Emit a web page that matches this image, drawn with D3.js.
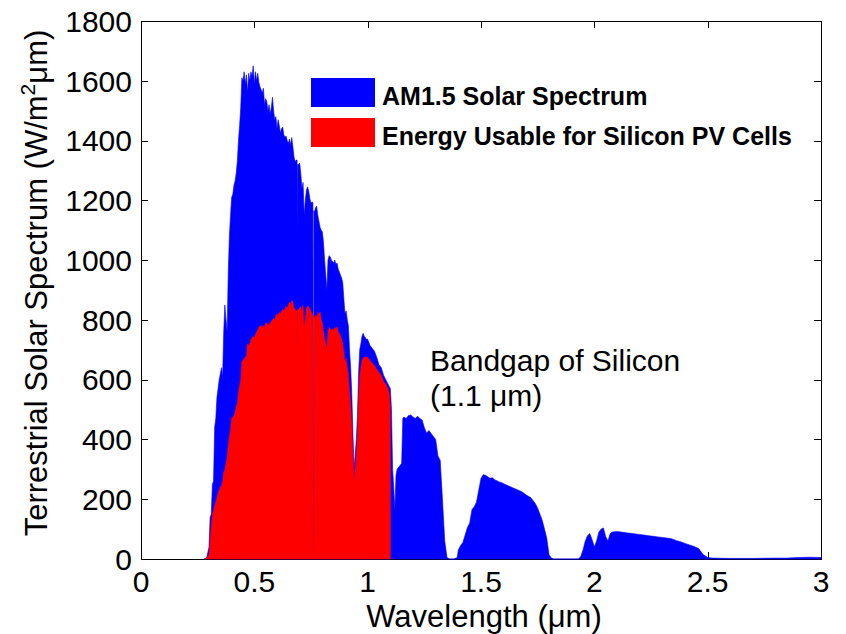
<!DOCTYPE html>
<html>
<head>
<meta charset="utf-8">
<script src="https://cdn.jsdelivr.net/npm/d3@7"></script>
<style>
  html, body { margin: 0; padding: 0; background: #fff; }
  svg { display: block; font-family: "Liberation Sans", Arial, Helvetica, sans-serif; }
</style>
</head>
<body>
<svg id="chart" width="846" height="634"></svg>
<script>
// ---------------- DATA ----------------
const xTicks = [0, 0.5, 1, 1.5, 2, 2.5, 3];
const xTickLabels = ["0", "0.5", "1", "1.5", "2", "2.5", "3"];
const yTicks = [0, 200, 400, 600, 800, 1000, 1200, 1400, 1600, 1800];
const yTickLabels = ["0", "200", "400", "600", "800", "1000", "1200", "1400", "1600", "1800"];
const seriesNames = ["AM1.5 Solar Spectrum", "Energy Usable for Silicon PV Cells"];

// AM1.5 spectrum: wavelength (µm) and irradiance (W/m²µm)
const am15Wavelength = [
  0.28, 0.29, 0.30, 0.305, 0.31, 0.315, 0.32, 0.325, 0.33, 0.335, 0.34, 0.345, 0.35, 0.355, 0.36, 0.365, 0.37, 0.375, 0.38, 0.385,
  0.39, 0.395, 0.40, 0.405, 0.41, 0.415, 0.42, 0.425, 0.43, 0.435, 0.44, 0.445, 0.45, 0.455, 0.46, 0.465, 0.47, 0.475, 0.48, 0.485,
  0.49, 0.495, 0.50, 0.505, 0.51, 0.515, 0.52, 0.525, 0.53, 0.535, 0.54, 0.545, 0.55, 0.555, 0.56, 0.565, 0.57, 0.575, 0.58, 0.585,
  0.59, 0.595, 0.60, 0.605, 0.61, 0.615, 0.62, 0.625, 0.63, 0.635, 0.64, 0.645, 0.65, 0.655, 0.66, 0.665, 0.67, 0.675, 0.68, 0.685,
  0.6885, 0.6895, 0.691, 0.695, 0.70, 0.705, 0.71, 0.715, 0.72, 0.725, 0.73, 0.735, 0.74, 0.745, 0.75, 0.755, 0.7585, 0.7598, 0.7612, 0.7625,
  0.765, 0.77, 0.775, 0.78, 0.785, 0.79, 0.795, 0.80, 0.805, 0.81, 0.815, 0.82, 0.825, 0.83, 0.835, 0.84, 0.845, 0.85, 0.855, 0.86, 0.865,
  0.87, 0.875, 0.88, 0.885, 0.89, 0.895, 0.90, 0.905, 0.91, 0.915, 0.92, 0.925, 0.93, 0.935, 0.94, 0.945, 0.95, 0.955, 0.96, 0.965,
  0.97, 0.975, 0.98, 0.985, 0.99, 0.995, 1.00, 1.01, 1.02, 1.03, 1.04, 1.05, 1.06, 1.07, 1.08, 1.09, 1.10, 1.105, 1.11, 1.115,
  1.12, 1.125, 1.13, 1.14, 1.15, 1.155, 1.16, 1.17, 1.18, 1.19, 1.20, 1.21, 1.22, 1.23, 1.24, 1.25, 1.26, 1.27, 1.28, 1.29,
  1.30, 1.31, 1.32, 1.33, 1.34, 1.35, 1.36, 1.38, 1.395, 1.40, 1.41, 1.42, 1.43, 1.44, 1.45, 1.46, 1.47, 1.48, 1.49, 1.50,
  1.51, 1.52, 1.53, 1.54, 1.55, 1.56, 1.57, 1.58, 1.59, 1.60, 1.62, 1.64, 1.66, 1.68, 1.70, 1.72, 1.74, 1.75, 1.76, 1.77,
  1.78, 1.79, 1.80, 1.81, 1.82, 1.93, 1.94, 1.95, 1.96, 1.97, 1.98, 1.99, 2.00, 2.01, 2.02, 2.03, 2.04, 2.05, 2.06, 2.07,
  2.08, 2.10, 2.12, 2.14, 2.16, 2.18, 2.20, 2.22, 2.24, 2.26, 2.28, 2.30, 2.32, 2.34, 2.36, 2.38, 2.40, 2.42, 2.44, 2.46,
  2.47, 2.48, 2.49, 2.50, 2.52, 2.60, 2.70, 2.80, 2.85, 2.90, 2.95, 3.00
];
const am15Irradiance = [
  0, 5, 40, 140, 150, 250, 260, 440, 470, 540, 570, 600, 620, 640, 610, 760, 850, 800, 760, 960,
  1080, 1150, 1210, 1220, 1250, 1265, 1290, 1330, 1400, 1450, 1510, 1610, 1600, 1630, 1590, 1620, 1560, 1625, 1600, 1630,
  1615, 1650, 1590, 1630, 1600, 1625, 1595, 1580, 1570, 1560, 1575, 1520, 1540, 1530, 1500, 1520, 1490, 1510, 1545, 1500,
  1470, 1480, 1440, 1470, 1450, 1425, 1440, 1445, 1420, 1410, 1415, 1400, 1390, 1405, 1385, 1410, 1380, 1345, 1330, 1335,
  1335, 1100, 1320, 1320, 1325, 1290, 1240, 1260, 1150, 1200, 1235, 1245, 1230, 1205, 1190, 1195, 1190, 40, 40, 1165,
  1160, 1175, 1180, 1150, 1130, 1110, 1100, 1095, 1060, 1000, 950, 900, 1000, 1015, 1010, 1000, 995, 990, 1000, 985, 990,
  970, 960, 950, 940, 925, 870, 820, 830, 800, 780, 700, 640, 550, 420, 300, 350, 400, 480, 620, 700,
  720, 745, 755, 745, 740, 735, 735, 715, 705, 695, 675, 650, 640, 615, 600, 585, 570, 500, 300, 240,
  165, 280, 300, 310, 320, 470, 475, 470, 480, 482, 475, 470, 478, 470, 465, 440, 421, 430, 420, 410,
  400, 345, 330, 200, 60, 5, 0, 0, 5, 30, 45, 55, 80, 105, 120, 165, 175, 190, 230, 270,
  282, 280, 275, 270, 272, 265, 262, 258, 256, 252, 245, 238, 232, 225, 214, 205, 185, 170, 150, 130,
  100, 70, 15, 3, 0, 0, 8, 30, 60, 78, 85, 65, 40, 60, 90, 100, 104, 75, 60, 85,
  90, 92, 90, 88, 86, 84, 82, 80, 78, 76, 74, 72, 70, 68, 62, 58, 52, 47, 42, 35,
  25, 15, 10, 5, 3, 2, 2, 3, 3, 5, 6, 5
];

// Energy usable for silicon PV cells (below 1.1 µm bandgap)
const siWavelength = [
  0.28, 0.29, 0.30, 0.305, 0.31, 0.315, 0.32, 0.325, 0.33, 0.335, 0.34, 0.345, 0.35, 0.355, 0.36, 0.365, 0.37, 0.375, 0.38, 0.385,
  0.39, 0.395, 0.40, 0.405, 0.41, 0.415, 0.42, 0.425, 0.43, 0.435, 0.44, 0.445, 0.45, 0.455, 0.46, 0.465, 0.47, 0.475, 0.48, 0.485,
  0.49, 0.495, 0.50, 0.505, 0.51, 0.515, 0.52, 0.525, 0.53, 0.535, 0.54, 0.545, 0.55, 0.555, 0.56, 0.565, 0.57, 0.575, 0.58, 0.585,
  0.59, 0.595, 0.60, 0.605, 0.61, 0.615, 0.62, 0.625, 0.63, 0.635, 0.64, 0.645, 0.65, 0.655, 0.66, 0.665, 0.67, 0.675, 0.68, 0.685,
  0.6885, 0.6895, 0.691, 0.695, 0.70, 0.705, 0.71, 0.715, 0.72, 0.725, 0.73, 0.735, 0.74, 0.745, 0.75, 0.755, 0.7585, 0.7598, 0.7612, 0.7625,
  0.765, 0.77, 0.775, 0.78, 0.785, 0.79, 0.795, 0.80, 0.805, 0.81, 0.815, 0.82, 0.825, 0.83, 0.835, 0.84, 0.845, 0.85, 0.855, 0.86, 0.865,
  0.87, 0.875, 0.88, 0.885, 0.89, 0.895, 0.90, 0.905, 0.91, 0.915, 0.92, 0.925, 0.93, 0.935, 0.94, 0.945, 0.95, 0.955, 0.96, 0.965,
  0.97, 0.975, 0.98, 0.985, 0.99, 0.995, 1.00, 1.01, 1.02, 1.03, 1.04, 1.05, 1.06, 1.07, 1.08, 1.09, 1.095, 1.10, 1.1001
];
const siIrradiance = [
  0, 3, 15, 60, 110, 150, 160, 180, 190, 205, 220, 230, 240, 245, 260, 290, 300, 320, 340, 380,
  410, 430, 470, 475, 480, 490, 510, 520, 555, 580, 600, 660, 665, 670, 675, 680, 720, 715, 720, 735,
  740, 745, 740, 750, 760, 765, 775, 780, 780, 775, 780, 775, 790, 790, 780, 785, 790, 795, 800, 805,
  800, 815, 820, 815, 825, 820, 830, 835, 830, 838, 845, 840, 850, 858, 855, 865, 860, 840, 835, 830,
  830, 700, 835, 835, 840, 845, 830, 850, 770, 800, 840, 845, 845, 835, 830, 820, 815, 30, 30, 805,
  810, 815, 810, 825, 820, 826, 800, 790, 760, 735, 720, 700, 760, 775, 770, 765, 770, 765, 775, 770, 777,
  760, 755, 745, 735, 720, 690, 660, 670, 640, 620, 560, 520, 450, 360, 260, 300, 350, 420, 540, 615,
  640, 665, 672, 676, 676, 675, 675, 665, 655, 648, 635, 625, 615, 595, 585, 570, 555, 510, 0
];

// ---------------- CHART ----------------
const svg = d3.select("#chart");
const M = { left: 141, right: 821, top: 21, bottom: 559 };
const x = d3.scaleLinear().domain([0, 3]).range([M.left, M.right]);
const y = d3.scaleLinear().domain([0, 1800]).range([M.bottom, M.top]);
const tickLen = 7;

const axisG = svg.append("g").attr("shape-rendering", "crispEdges");
xTicks.forEach(t => {
  const px = Math.round(x(t)) + 0.5;
  axisG.append("line").attr("x1", px).attr("x2", px).attr("y1", M.bottom).attr("y2", M.bottom - tickLen).attr("stroke", "#000");
  axisG.append("line").attr("x1", px).attr("x2", px).attr("y1", M.top).attr("y2", M.top + tickLen).attr("stroke", "#000");
});
yTicks.forEach(t => {
  const py = Math.round(y(t)) + 0.5;
  axisG.append("line").attr("x1", M.left).attr("x2", M.left + tickLen).attr("y1", py).attr("y2", py).attr("stroke", "#000");
  axisG.append("line").attr("x1", M.right).attr("x2", M.right - tickLen).attr("y1", py).attr("y2", py).attr("stroke", "#000");
});
axisG.append("rect").attr("x", M.left + 0.5).attr("y", M.top + 0.5)
  .attr("width", M.right - M.left).attr("height", M.bottom - M.top)
  .attr("fill", "none").attr("stroke", "#000").attr("stroke-width", 1);

// areas
const am15 = am15Wavelength.map((w, i) => ({ w, v: am15Irradiance[i] }));
const si = siWavelength.map((w, i) => ({ w, v: siIrradiance[i] }));
const area = d3.area().x(d => x(d.w)).y0(y(0)).y1(d => y(d.v));

svg.append("path").datum(am15).attr("d", area)
  .attr("fill", "#0000ff").attr("stroke", "#0000ff").attr("stroke-width", 0.6);
svg.append("path").datum(si).attr("d", area)
  .attr("fill", "#ff0000").attr("stroke", "#ff0000").attr("stroke-width", 0.5);

// tick labels
const labelG = svg.append("g").attr("font-size", 30).attr("fill", "#000");
xTicks.forEach((t, i) => {
  labelG.append("text").attr("x", x(t)).attr("y", 592).attr("text-anchor", "middle").text(xTickLabels[i]);
});
yTicks.forEach((t, i) => {
  labelG.append("text").attr("x", 132).attr("y", y(t)).attr("dy", "0.36em").attr("text-anchor", "end").text(yTickLabels[i]);
});

// axis titles
svg.append("text").attr("x", 484).attr("y", 627).attr("text-anchor", "middle")
  .attr("font-size", 31).text("Wavelength (μm)");

const yl = svg.append("text").attr("transform", "translate(47,283) rotate(-90)")
  .attr("text-anchor", "middle").attr("font-size", 31);
yl.append("tspan").text("Terrestrial Solar Spectrum (W/m");
yl.append("tspan").attr("font-size", 21).attr("dy", -12).text("2");
yl.append("tspan").attr("dy", 12).text("μm)");

// legend
const legendColors = ["#0000ff", "#ff0000"];
seriesNames.forEach((name, i) => {
  const ry = 78 + i * 40;
  svg.append("rect").attr("x", 311).attr("y", ry).attr("width", 64).attr("height", 29).attr("fill", legendColors[i]);
  svg.append("text").attr("x", 382).attr("y", ry + 27).attr("font-size", 25).attr("font-weight", "bold").text(name);
});

// annotation
svg.append("text").attr("x", 430).attr("y", 371).attr("font-size", 30).text("Bandgap of Silicon");
svg.append("text").attr("x", 430).attr("y", 406).attr("font-size", 30).text("(1.1 μm)");
</script>
</body>
</html>
